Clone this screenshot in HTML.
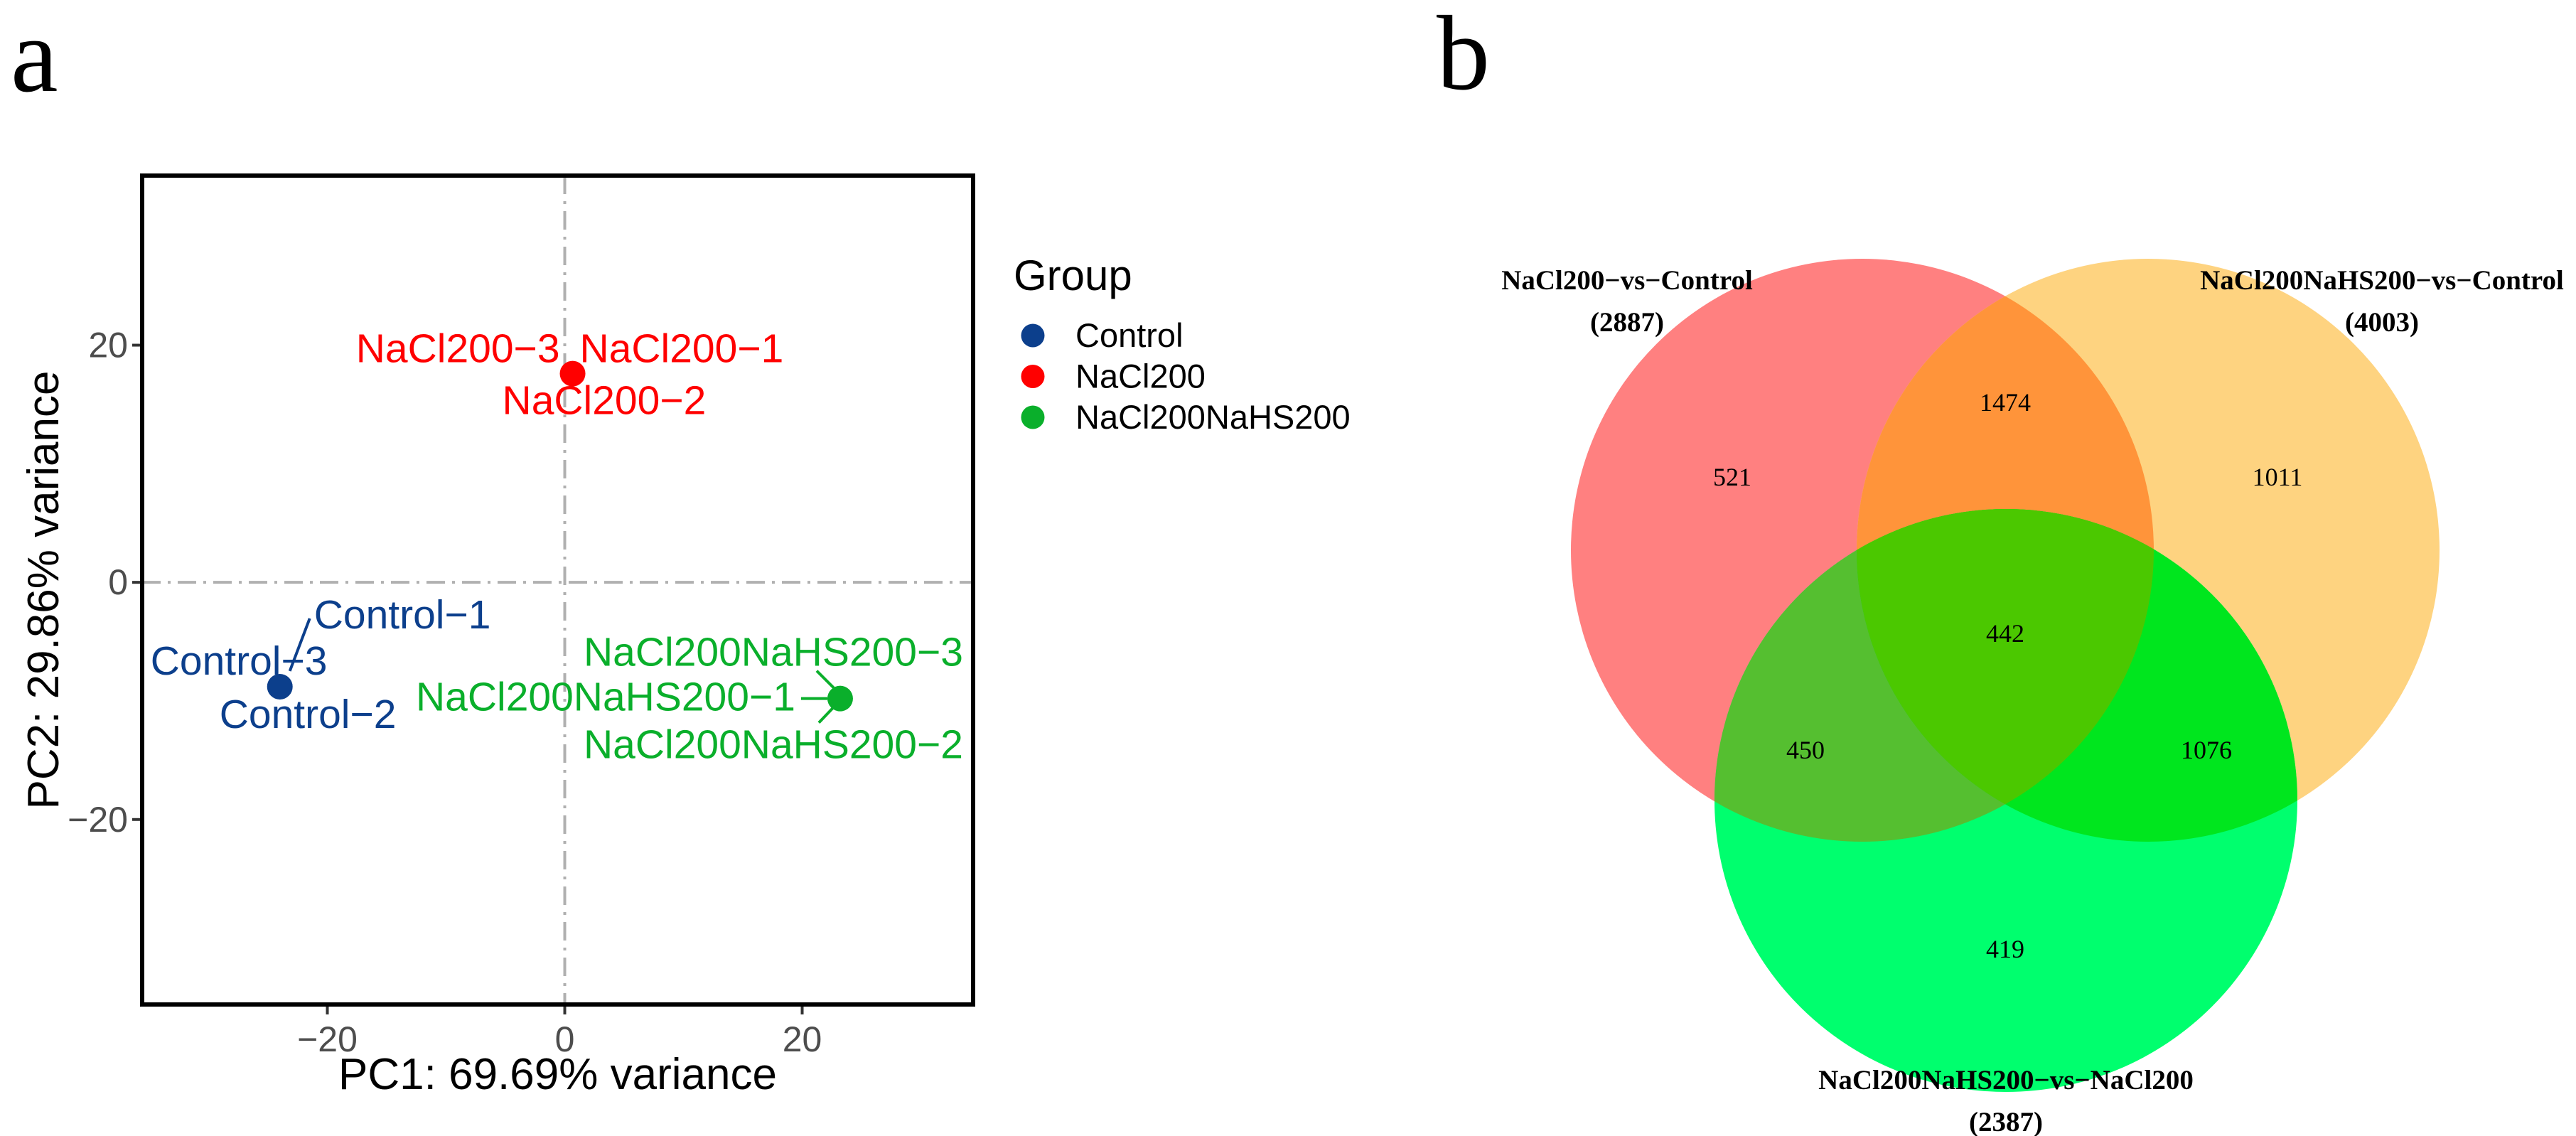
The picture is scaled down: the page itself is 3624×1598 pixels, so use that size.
<!DOCTYPE html>
<html><head><meta charset="utf-8"><style>
html,body{margin:0;padding:0;background:#fff;}
svg{display:block;}
</style></head><body>
<svg id="fig" width="3624" height="1598" viewBox="0 0 3624 1598" xmlns="http://www.w3.org/2000/svg">
<defs>
<clipPath id="cRed"><circle cx="2620" cy="774" r="410"/></clipPath>
<clipPath id="cOrg"><circle cx="3022" cy="774" r="410"/></clipPath>
</defs>
<rect x="0" y="0" width="3624" height="1598" fill="#fff"/>
<text x="15" y="128" font-family="Liberation Serif, serif" font-size="150" fill="#000">a</text>
<text x="2021" y="125" font-family="Liberation Serif, serif" font-size="150" fill="#000">b</text>
<g id="pca"></g>
<g id="venn"></g>
</svg>
<script>
// ---- PCA data ----
const groups = ["Control", "NaCl200", "NaCl200NaHS200"];
const groupColors = ["#0C3F8C", "#FF0000", "#0AAF2B"];
const pc1 = [-24.0, 0.66, 23.2];
const pc2 = [-8.8, 17.6, -9.8];
const xTicks = [-20, 0, 20];
const yTicks = [-20, 0, 20];
const xTitle = "PC1: 69.69% variance";
const yTitle = "PC2: 29.86% variance";
// ---- Venn data ----
const setNames = ["NaCl200\u2212vs\u2212Control", "NaCl200NaHS200\u2212vs\u2212Control", "NaCl200NaHS200\u2212vs\u2212NaCl200"];
const setTotals = [2887, 4003, 2387];
const regionKeys = ["A", "B", "C", "AB", "AC", "BC", "ABC"];
const regionCounts = [521, 1011, 419, 1474, 450, 1076, 442];

const NS = "http://www.w3.org/2000/svg";
function mk(tag, attrs, parent, txt) {
  const e = document.createElementNS(NS, tag);
  for (const k in attrs) e.setAttribute(k, attrs[k]);
  if (txt !== undefined) e.textContent = txt;
  parent.appendChild(e);
  return e;
}
const L = 200, R = 1369, T = 247, B = 1413;
const xD = [-35.6, 34.4], yD = [-35.6, 34.3];
const sx = v => L + (v - xD[0]) / (xD[1] - xD[0]) * (R - L);
const sy = v => B - (v - yD[0]) / (yD[1] - yD[0]) * (B - T);
const pca = document.getElementById('pca');
const SANS = "Liberation Sans, sans-serif";

// reference lines
let e = mk('line', {x1: L, x2: R, y1: sy(0), y2: sy(0), stroke: '#b0b0b0', 'stroke-width': 4, 'stroke-dasharray': '26 10 4 10'}, pca);


e = mk('line', {y1: T, y2: B, x1: sx(0), x2: sx(0), stroke: '#b0b0b0', 'stroke-width': 4, 'stroke-dasharray': '26 10 4 10'}, pca);



// ticks
xTicks.forEach(t => {
  const l = mk('line', {x1: sx(t), x2: sx(t), y1: B, y2: B + 14, stroke: '#333', 'stroke-width': 4}, pca);
  
  
  const tx = mk('text', {x: sx(t), y: B + 66, 'text-anchor': 'middle', 'font-family': SANS, 'font-size': 50, fill: '#4d4d4d'}, pca, t < 0 ? '\u2212' + Math.abs(t) : String(t));
  
  
});
yTicks.forEach(t => {
  const l = mk('line', {x1: L - 14, x2: L, y1: sy(t), y2: sy(t), stroke: '#333', 'stroke-width': 4}, pca);
  
  
  const tx = mk('text', {x: L - 20, y: sy(t) + 17, 'text-anchor': 'end', 'font-family': SANS, 'font-size': 50, fill: '#4d4d4d'}, pca, t < 0 ? '\u2212' + Math.abs(t) : String(t));
  
  
});
e = mk('rect', {x: L, y: T, width: R - L, height: B - T, fill: 'none', stroke: '#000', 'stroke-width': 6}, pca);



e = mk('text', {x: (L + R) / 2, y: 1532, 'text-anchor': 'middle', 'font-family': SANS, 'font-size': 62, fill: '#000'}, pca, xTitle);


e = mk('text', {x: 0, y: 0, 'text-anchor': 'middle', 'font-family': SANS, 'font-size': 62, fill: '#000', transform: 'translate(82,' + ((T + B) / 2) + ') rotate(-90)'}, pca, yTitle);



// sample labels: offsets (style) relative to group point
const labelSets = [
  [["Control\u22121", 48, -82, 'start'], ["Control\u22123", -182, -17, 'start'], ["Control\u22122", -85, 58, 'start']],
  [["NaCl200\u22123", -18, -16, 'end'], ["NaCl200\u22121", 10, -16, 'start'], ["NaCl200\u22122", -99, 57, 'start']],
  [["NaCl200NaHS200\u22123", 173, -46, 'end'], ["NaCl200NaHS200\u22121", -63, 17, 'end'], ["NaCl200NaHS200\u22122", 173, 84, 'end']]
];
const leaders = [
  [[42, -96, 14, -22]],
  [],
  [[-33, -39, -9, -15], [-55, 0, -18, 0], [-30, 34, -9, 12]]
];
groups.forEach((g, i) => {
  const px = sx(pc1[i]), py = sy(pc2[i]);
  leaders[i].forEach(s => {
    const l = mk('line', {x1: px + s[0], y1: py + s[1], x2: px + s[2], y2: py + s[3], stroke: groupColors[i], 'stroke-width': 4}, pca);
    
    
  });
  const c = mk('circle', {cx: px, cy: py, r: 18, fill: groupColors[i]}, pca);
  
  
  labelSets[i].forEach(lb => {
    const t = mk('text', {x: px + lb[1], y: py + lb[2], 'text-anchor': lb[3], 'font-family': SANS, 'font-size': 57, fill: groupColors[i]}, pca, lb[0]);
    
    
  });
});

// legend
e = mk('text', {x: 1426, y: 408, 'font-family': SANS, 'font-size': 60, fill: '#000'}, pca, 'Group');


groups.forEach((g, i) => {
  const y = 472 + i * 57.5;
  const c = mk('circle', {cx: 1453, cy: y, r: 16.5, fill: groupColors[i]}, pca);
  
  
  const t = mk('text', {x: 1513, y: y + 16, 'font-family': SANS, 'font-size': 47, fill: '#000'}, pca, g);
  
  
});

// ---- Venn ----
const venn = document.getElementById('venn');
const SERIF = "Liberation Serif, serif";
const CR = [2620, 774], CO = [3022, 774], CG = [2822, 1126], RAD = 410;
e = mk('circle', {cx: CR[0], cy: CR[1], r: RAD, fill: '#FF8080'}, venn);


e = mk('circle', {cx: CO[0], cy: CO[1], r: RAD, fill: '#FED380'}, venn);


e = mk('circle', {cx: CO[0], cy: CO[1], r: RAD, fill: '#FF943A', 'clip-path': 'url(#cRed)'}, venn);


e = mk('circle', {cx: CG[0], cy: CG[1], r: RAD, fill: '#00FF6E'}, venn);


e = mk('circle', {cx: CG[0], cy: CG[1], r: RAD, fill: '#55BF30', 'clip-path': 'url(#cRed)'}, venn);


e = mk('circle', {cx: CG[0], cy: CG[1], r: RAD, fill: '#00E61E', 'clip-path': 'url(#cOrg)'}, venn);


const gTri = mk('g', {'clip-path': 'url(#cOrg)'}, venn);
e = mk('circle', {cx: CG[0], cy: CG[1], r: RAD, fill: '#4BC800', 'clip-path': 'url(#cRed)'}, gTri);



const regionPos = {A: [2437, 671], B: [3204, 671], C: [2821, 1335], AB: [2821, 566], AC: [2540, 1055], BC: [3104, 1055], ABC: [2821, 891]};
regionKeys.forEach((k, i) => {
  const t = mk('text', {x: regionPos[k][0], y: regionPos[k][1] + 12, 'text-anchor': 'middle', 'font-family': SERIF, 'font-size': 36, fill: '#000'}, venn, String(regionCounts[i]));
  
  
});
const setLabelPos = [[2289, 407], [3351, 407], [2822, 1532]];
setNames.forEach((n, i) => {
  const t = mk('text', {x: setLabelPos[i][0], y: setLabelPos[i][1], 'text-anchor': 'middle', 'font-family': SERIF, 'font-size': 39, 'font-weight': 'bold', fill: '#000'}, venn, n);
  
  
  const t2 = mk('text', {x: setLabelPos[i][0], y: setLabelPos[i][1] + 59, 'text-anchor': 'middle', 'font-family': SERIF, 'font-size': 39, 'font-weight': 'bold', fill: '#000'}, venn, '(' + setTotals[i] + ')');
  
  
});
</script>
</body></html>
